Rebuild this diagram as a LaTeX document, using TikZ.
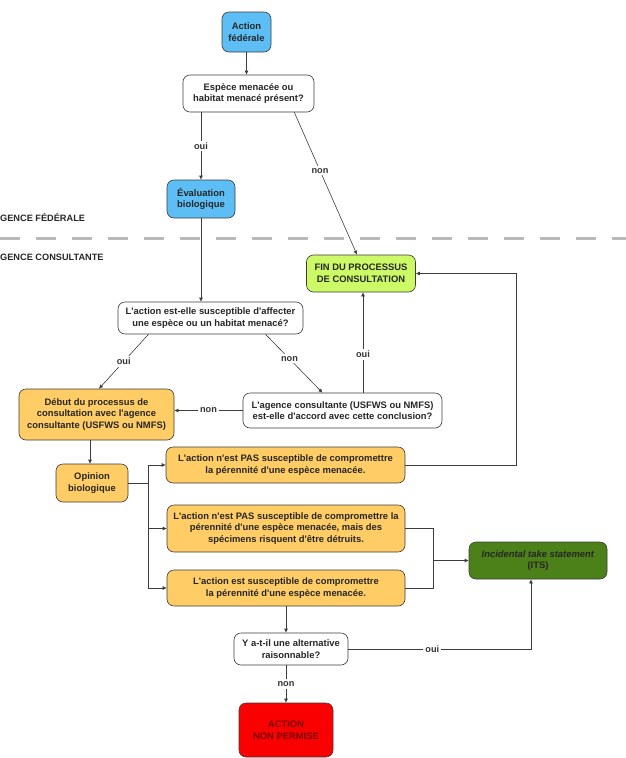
\documentclass[tikz,border=0pt]{standalone}
\usepackage{fontspec}
\setmainfont{Liberation Sans}[Ligatures=TeXOff]
\usetikzlibrary{arrows.meta,calc}
\definecolor{cblue}{RGB}{92,190,245}
\definecolor{cgreenl}{RGB}{204,250,102}
\definecolor{corange}{RGB}{255,204,102}
\definecolor{cgreend}{RGB}{76,128,24}
\definecolor{cred}{RGB}{250,0,0}
\definecolor{cline}{RGB}{60,60,60}
\definecolor{cdash}{RGB}{185,185,185}
\definecolor{cdarkred}{RGB}{120,0,0}
\tikzset{
  box/.style={draw=cline, line width=0.6pt, rounded corners=7pt, align=center,
    inner sep=0pt, font=\bfseries\fontsize{9.4}{11.6}\selectfont, text=black!85},
  conn/.style={draw=cline, line width=0.6pt},
  arr/.style={conn, -{Latex[length=4pt,width=4pt]}},
  lbl/.style={fill=white, inner sep=2pt, font=\bfseries\fontsize{9.2}{10}\selectfont, text=black!80},
  zone/.style={anchor=west, inner sep=0pt, font=\bfseries\fontsize{9.2}{10}\selectfont, text=black!85}
}
\begin{document}
\begin{tikzpicture}[x=1pt,y=-1pt]
\useasboundingbox (0,0) rectangle (626,758);
% zone separator
\draw[cdash, line width=3pt, dash pattern=on 20pt off 16pt] (0,238) -- (626,238);
\node[zone] (zfed) at (0,217) {GENCE FÉDÉRALE};
\node[zone] (zcons) at (0,257) {GENCE CONSULTANTE};
% nodes
\node[box, fill=cblue, minimum width=49pt, minimum height=40pt] (act) at (246.5,32) {Action\\fédérale};
\node[box, fill=white, minimum width=131pt, minimum height=37pt] (esp) at (248.5,93.5) {Espèce menacée ou\\habitat menacé présent?};
\node[box, fill=cblue, minimum width=68pt, minimum height=38pt] (eval) at (201,199) {Évaluation\\biologique};
\node[box, fill=cgreenl, minimum width=109pt, minimum height=37pt] (fin) at (361,273.5) {FIN DU PROCESSUS\\DE CONSULTATION};
\node[box, fill=white, minimum width=185pt, minimum height=32pt] (susc) at (210.5,318) {L'action est-elle susceptible d'affecter\\une espèce ou un habitat menacé?};
\node[box, fill=white, minimum width=199pt, minimum height=35pt] (agence) at (342.5,410.5) {L'agence consultante (USFWS ou NMFS)\\est-elle d'accord avec cette conclusion?};
\node[box, fill=corange, minimum width=155pt, minimum height=51pt] (debut) at (96.5,414.5) {Début du processus de\\consultation avec l'agence\\consultante (USFWS ou NMFS)};
\node[box, fill=corange, minimum width=72pt, minimum height=38pt] (opin) at (92,483) {Opinion\\biologique};
\node[box, fill=corange, minimum width=239pt, minimum height=36pt] (b1) at (285.5,465) {L'action n'est PAS susceptible de compromettre\\la pérennité d'une espèce menacée.};
\node[box, fill=corange, minimum width=238pt, minimum height=47pt] (b2) at (286,528.5) {L'action n'est PAS susceptible de compromettre la\\pérennité d'une espèce menacée, mais des\\spécimens risquent d'être détruits.};
\node[box, fill=corange, minimum width=238pt, minimum height=36pt] (b3) at (286,588) {L'action est susceptible de compromettre\\la pérennité d'une espèce menacée.};
\node[box, fill=cgreend, minimum width=138pt, minimum height=37pt, text=black!85] (its) at (538,560.5) {\textit{Incidental take statement}\\(ITS)};
\node[box, fill=white, minimum width=114pt, minimum height=32pt] (yq) at (291,649) {Y a-t-il une alternative\\raisonnable?};
\node[box, fill=cred, minimum width=94pt, minimum height=54pt, text=cdarkred] (anp) at (286,730) {ACTION\\NON PERMISE};
% connectors
\draw[arr] (act) -- (act.south |- esp.north);
\draw[arr] (eval.north |- esp.south) -- node[lbl] (l1) {oui} (eval.north);
\draw[arr] ($(esp.south east)+(-20,0)$) -- node[lbl, pos=0.41] (l2) {non} ($(fin.north)+(-4,0)$);
\draw[arr] (eval.south) -- (eval.south |- susc.north);
\draw[arr] ($(susc.south)+(-62,0)$) -- node[lbl] (l3) {oui} ($(debut.north)+(2.5,0)$);
\draw[arr] ($(susc.south)+(55,0)$) -- node[lbl, pos=0.42] (l4) {non} ($(agence.north)+(-20,0)$);
\draw[arr] ($(agence.north)+(20.5,0)$) -- node[lbl, pos=0.38] (l5) {oui} ($(fin.south)+(2,0)$);
\draw[arr] (agence.west) -- node[lbl] (l6) {non} (agence.west -| debut.east);
\draw[arr] (opin.north |- debut.south) ++(-2,0) coordinate (d1) -- (d1 |- opin.north);
\coordinate (j) at (148,483);
\draw[conn] (opin.east) -- (j);
\draw[arr] (j) |- (b1.west);
\draw[arr] (j) |- (b2.west);
\draw[arr] (j) |- (b3.west);
\coordinate (fb) at (516,465);
\draw[arr] (b1.east) -- (fb) |- (fin.east);
\coordinate (m2) at (433,528.5);
\coordinate (m3) at (433,588);
\draw[conn] (b2.east) -- (m2) -- (m3) -- (b3.east);
\draw[arr] (433,560.5) coordinate (mm) -- (its.west);
\draw[arr] (b3.south) -- (b3.south |- yq.north);
\coordinate (yo) at (531,649);
\draw[arr] (yq.east) -- node[lbl, pos=0.46] (l7) {oui} (yo) -- (yo |- its.south);
\draw[arr] (anp.north |- yq.south) -- node[lbl] (l8) {non} (anp.north);
\end{tikzpicture}
\end{document}
